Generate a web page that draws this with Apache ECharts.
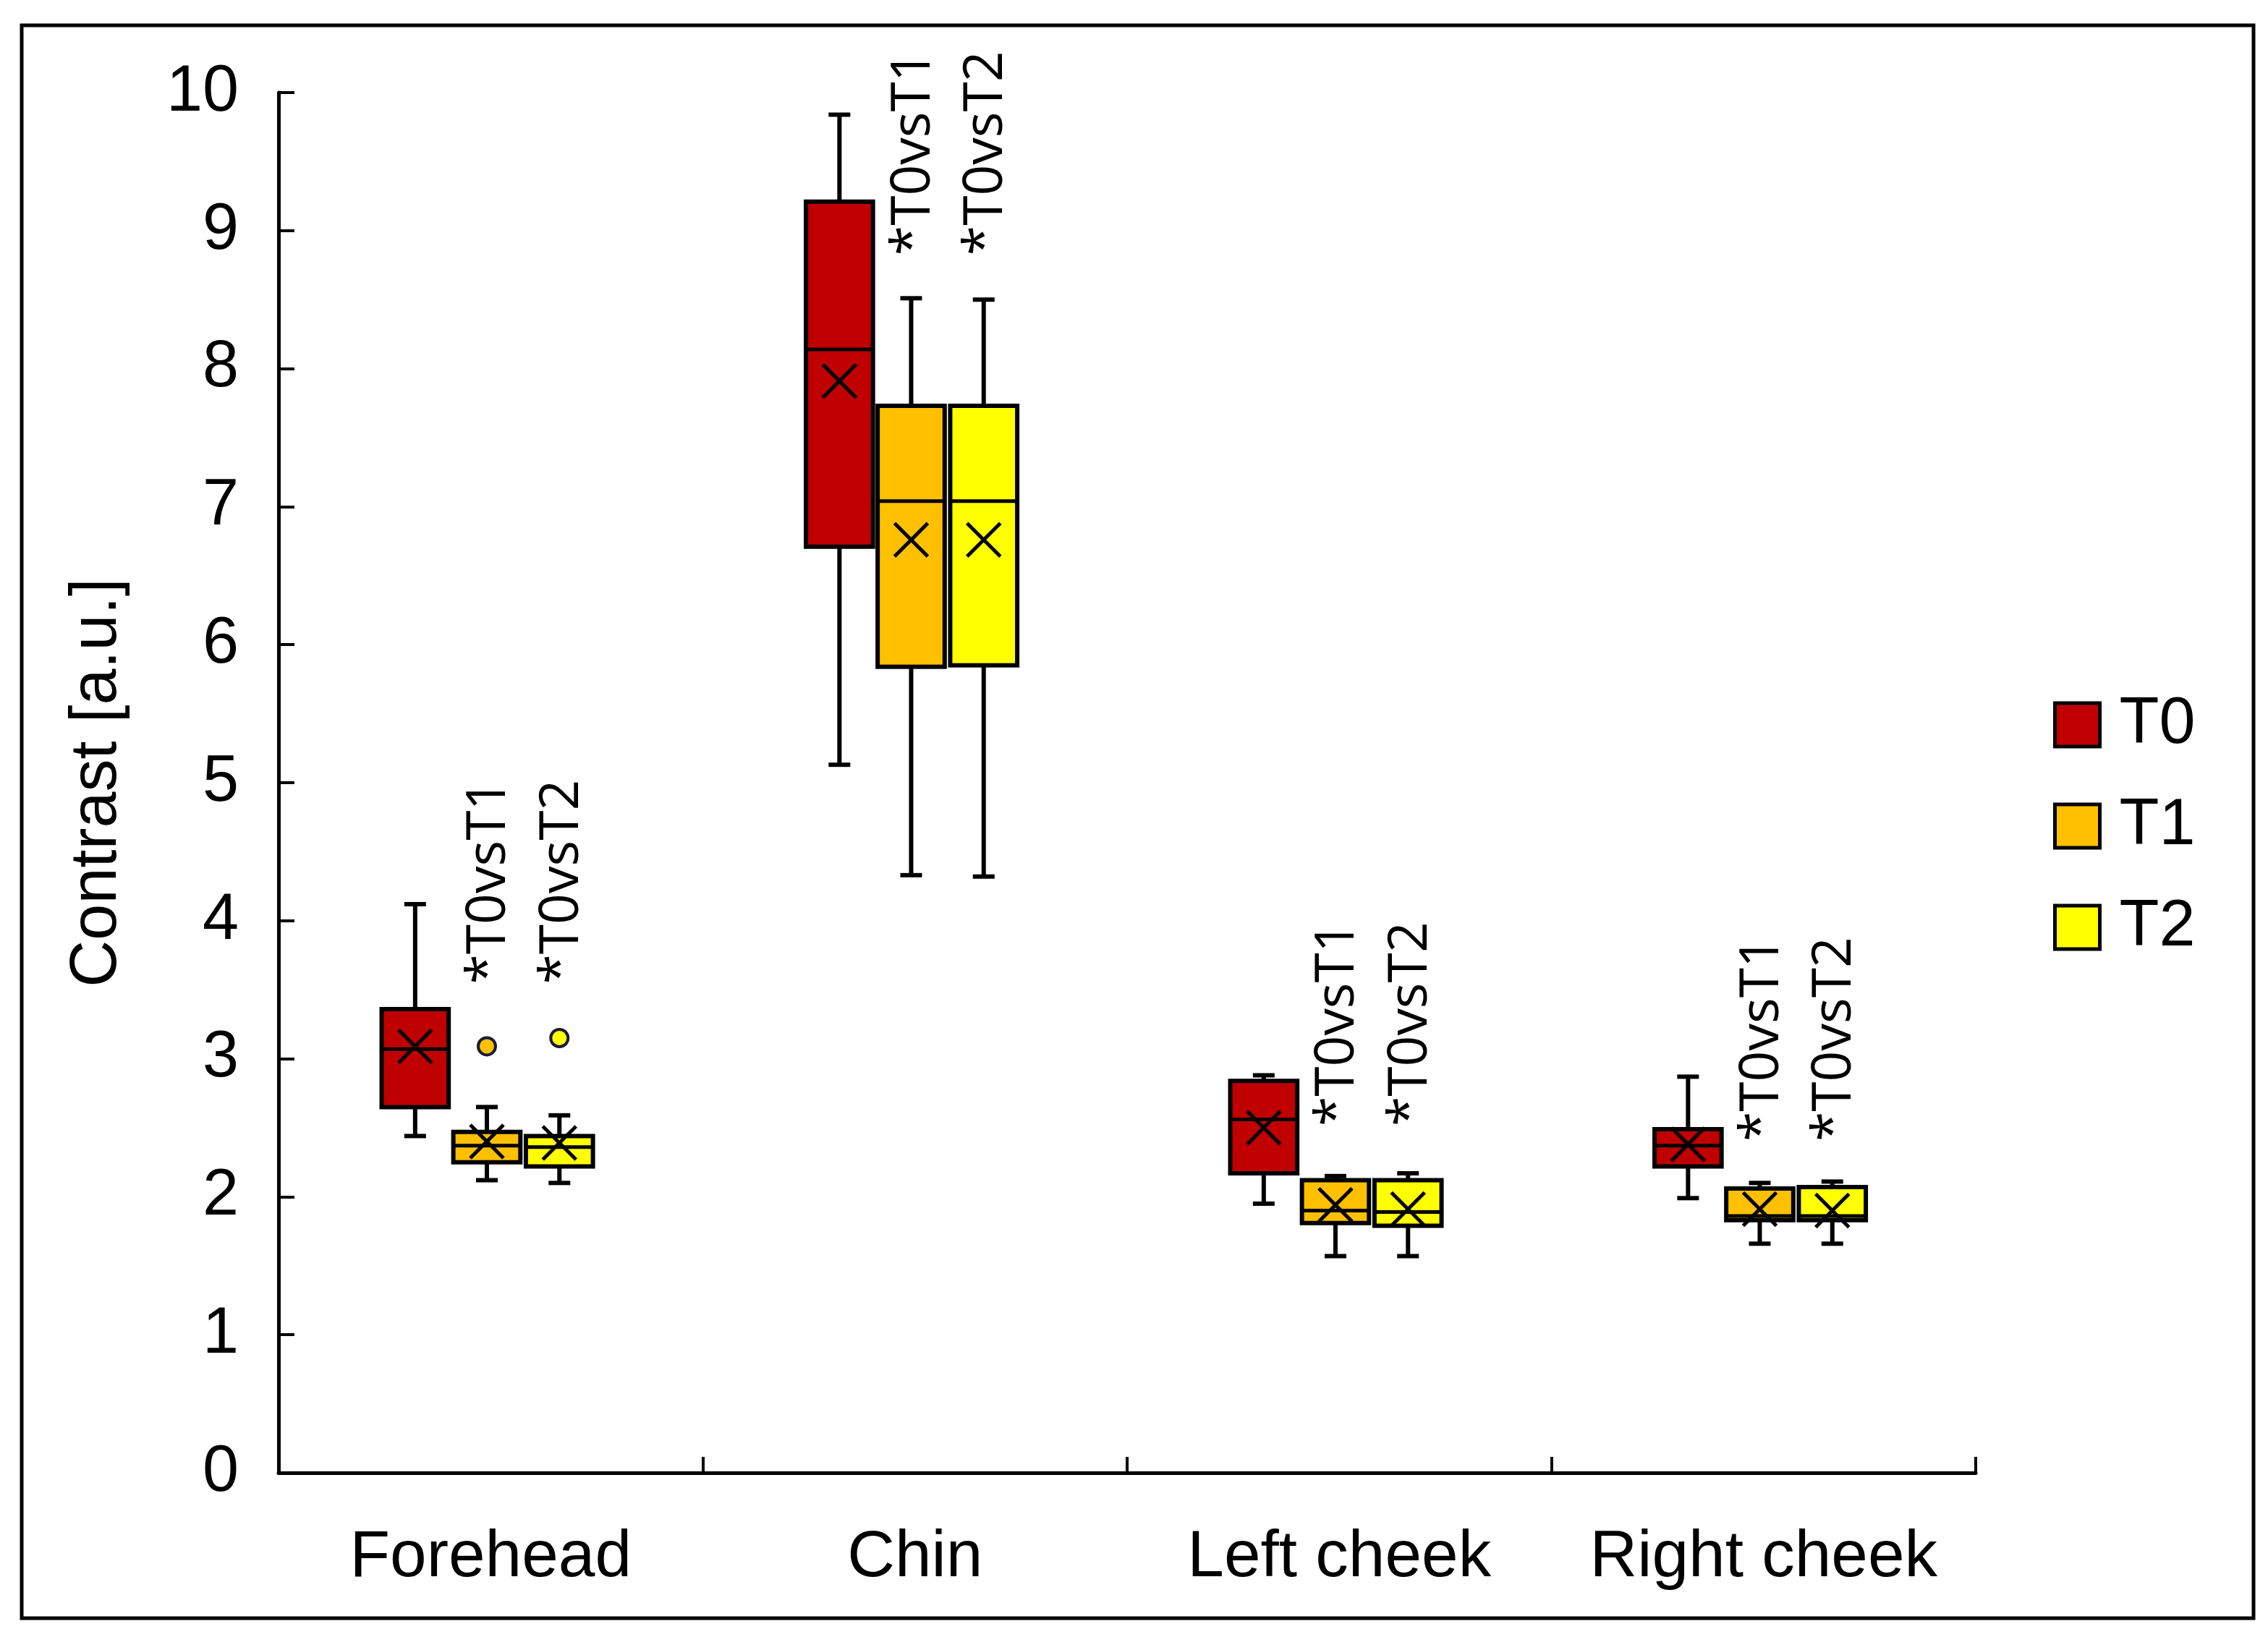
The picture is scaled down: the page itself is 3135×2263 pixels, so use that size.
<!DOCTYPE html>
<html>
<head>
<meta charset="utf-8">
<script src="https://cdn.jsdelivr.net/npm/echarts@6/dist/echarts.min.js"></script>
<style>html,body{margin:0;padding:0;background:#fff;}#c{width:3135px;height:2263px;}</style>
</head>
<body>
<div id="c"></div>
<script>
// ---------- data ----------
const categories = ['Forehead', 'Chin', 'Left cheek', 'Right cheek'];
const seriesNames = ['T0', 'T1', 'T2'];
const yTicks = [0, 1, 2, 3, 4, 5, 6, 7, 8, 9, 10];
// each row: [whisker min, Q1, median, Q3, whisker max, mean]
const boxT0 = [
  [2.44, 2.65, 3.07, 3.36, 4.12, 3.09],
  [5.13, 6.71, 8.14, 9.21, 9.84, 7.91],
  [1.95, 2.17, 2.56, 2.84, 2.88, 2.50],
  [1.99, 2.22, 2.37, 2.49, 2.87, 2.38]
];
const boxT1 = [
  [2.12, 2.25, 2.37, 2.47, 2.65, 2.40],
  [4.33, 5.84, 7.04, 7.73, 8.51, 6.76],
  [1.57, 1.81, 1.90, 2.12, 2.15, 1.94],
  [1.66, 1.83, 1.86, 2.06, 2.10, 1.91]
];
const boxT2 = [
  [2.10, 2.22, 2.36, 2.44, 2.59, 2.39],
  [4.32, 5.85, 7.04, 7.73, 8.50, 6.76],
  [1.57, 1.79, 1.89, 2.12, 2.17, 1.91],
  [1.66, 1.83, 1.86, 2.07, 2.11, 1.90]
];
// outliers: [category index, value]
const outliersT1 = [[0, 3.09]];
const outliersT2 = [[0, 3.15]];
// significance annotations
const sigTexts = ['*T0vsT1', '*T0vsT2'];
const sigBaseY = [3.54, 8.82, 2.51, 2.40];

// ---------- style ----------
const colors = ['#C00000', '#FFC000', '#FFFF00'];
const OFFS = [-0.178, -0.009, 0.162];   // box centre offsets (fraction of band)
const BOXW = 0.158;                      // box width (fraction of band)
const CAPW = 26;
const XSIZE = 23;

function boxRender(sIdx) {
  return function (params, api) {
    const ci = api.value(0);
    const band = api.size([1, 0])[0];
    const cx = api.coord([ci, 0])[0] + OFFS[sIdx] * band;
    const w = BOXW * band;
    const y = k => api.coord([ci, api.value(k)])[1];
    const yMin = y(1), yQ1 = y(2), yMed = y(3), yQ3 = y(4), yMax = y(5), yMean = y(6);
    const ls = { stroke: '#000', lineWidth: 6 };
    return {
      type: 'group',
      children: [
        { type: 'line', shape: { x1: cx, y1: yMax, x2: cx, y2: yQ3 }, style: ls },
        { type: 'line', shape: { x1: cx, y1: yQ1, x2: cx, y2: yMin }, style: ls },
        { type: 'line', shape: { x1: cx - CAPW / 2 - 2, y1: yMax, x2: cx + CAPW / 2 + 2, y2: yMax }, style: ls },
        { type: 'line', shape: { x1: cx - CAPW / 2 - 2, y1: yMin, x2: cx + CAPW / 2 + 2, y2: yMin }, style: ls },
        { type: 'rect', shape: { x: cx - w / 2, y: yQ3, width: w, height: yQ1 - yQ3 },
          style: { fill: colors[sIdx], stroke: '#000', lineWidth: 6 } },
        { type: 'line', shape: { x1: cx - w / 2, y1: yMed, x2: cx + w / 2, y2: yMed }, style: { stroke: '#000', lineWidth: 5 } },
        { type: 'line', shape: { x1: cx - XSIZE, y1: yMean - XSIZE, x2: cx + XSIZE, y2: yMean + XSIZE }, style: { stroke: '#000', lineWidth: 5 } },
        { type: 'line', shape: { x1: cx - XSIZE, y1: yMean + XSIZE, x2: cx + XSIZE, y2: yMean - XSIZE }, style: { stroke: '#000', lineWidth: 5 } }
      ]
    };
  };
}
function outlierRender(sIdx) {
  return function (params, api) {
    const ci = api.value(0);
    const band = api.size([1, 0])[0];
    const p = api.coord([ci, api.value(1)]);
    return { type: 'circle', shape: { cx: p[0] + OFFS[sIdx] * band, cy: p[1], r: 12 },
      style: { fill: colors[sIdx], stroke: '#1a1a3a', lineWidth: 4 } };
  };
}
function sigRender(params, api) {
  const ci = api.value(0), s = api.value(1);
  const band = api.size([1, 0])[0];
  const p = api.coord([ci, api.value(2)]);
  return { type: 'text', x: p[0] + OFFS[s] * band + 4, y: p[1], rotation: Math.PI / 2,
    style: { text: sigTexts[s - 1], fontSize: 75, fontFamily: 'Open Sans', fill: '#000',
      align: 'left', verticalAlign: 'middle' } };
}
const mk = arr => arr.map((r, i) => [i].concat(r));
const sigData = [];
sigBaseY.forEach((v, i) => { sigData.push([i, 1, v]); sigData.push([i, 2, v]); });

const chart = echarts.init(document.getElementById('c'), null, { renderer: 'canvas' });
chart.setOption({
  animation: false,
  backgroundColor: '#fff',
  grid: { left: 385, right: 404, top: 128, bottom: 227, containLabel: false },
  xAxis: {
    type: 'category', data: categories, boundaryGap: true,
    axisLine: { lineStyle: { color: '#000', width: 5 } },
    axisTick: { show: true, interval: 0, inside: true, length: 22, lineStyle: { color: '#000', width: 4 } },
    axisLabel: { interval: 0, fontSize: 91, lineHeight: 91, fontFamily: 'Liberation Sans', color: '#000', margin: 72 },
    splitLine: { show: false }
  },
  yAxis: {
    type: 'value', min: yTicks[0], max: yTicks[yTicks.length - 1], interval: 1,
    name: 'Contrast [a.u.]', nameLocation: 'middle', nameGap: 205,
    nameTextStyle: { fontSize: 90, lineHeight: 90, fontFamily: 'Liberation Sans', color: '#000' },
    axisLine: { show: true, lineStyle: { color: '#000', width: 5 } },
    axisTick: { show: true, inside: true, length: 22, lineStyle: { color: '#000', width: 4 } },
    axisLabel: { fontSize: 90, fontFamily: 'Liberation Sans', color: '#000', margin: 55 },
    splitLine: { show: false }
  },
  legend: {
    orient: 'vertical', left: 2833, top: 952, itemWidth: 62, itemHeight: 60, itemGap: 50,
    textStyle: { fontSize: 90, lineHeight: 90, fontFamily: 'Liberation Sans', color: '#000', padding: [0, 0, 0, 22] },
    data: seriesNames.map((n, i) => ({ name: n, icon: 'rect',
      itemStyle: { color: colors[i], borderColor: '#000', borderWidth: 5 } }))
  },
  graphic: [{ type: 'rect', shape: { x: 30, y: 35, width: 3085, height: 2202 },
    style: { fill: 'none', stroke: '#000', lineWidth: 5 }, silent: true }],
  series: [
    { name: 'T0', type: 'custom', renderItem: boxRender(0), data: mk(boxT0), itemStyle: { color: colors[0] }, encode: { x: 0, y: [1, 2, 3, 4, 5, 6] } },
    { name: 'T1', type: 'custom', renderItem: boxRender(1), data: mk(boxT1), itemStyle: { color: colors[1] }, encode: { x: 0, y: [1, 2, 3, 4, 5, 6] } },
    { name: 'T2', type: 'custom', renderItem: boxRender(2), data: mk(boxT2), itemStyle: { color: colors[2] }, encode: { x: 0, y: [1, 2, 3, 4, 5, 6] } },
    { name: 'outT1', type: 'custom', renderItem: outlierRender(1), data: outliersT1, encode: { x: 0, y: 1 } },
    { name: 'outT2', type: 'custom', renderItem: outlierRender(2), data: outliersT2, encode: { x: 0, y: 1 } },
    { name: 'sig', type: 'custom', renderItem: sigRender, data: sigData, encode: { x: 0, y: 2 } }
  ]
});
</script>
</body>
</html>
